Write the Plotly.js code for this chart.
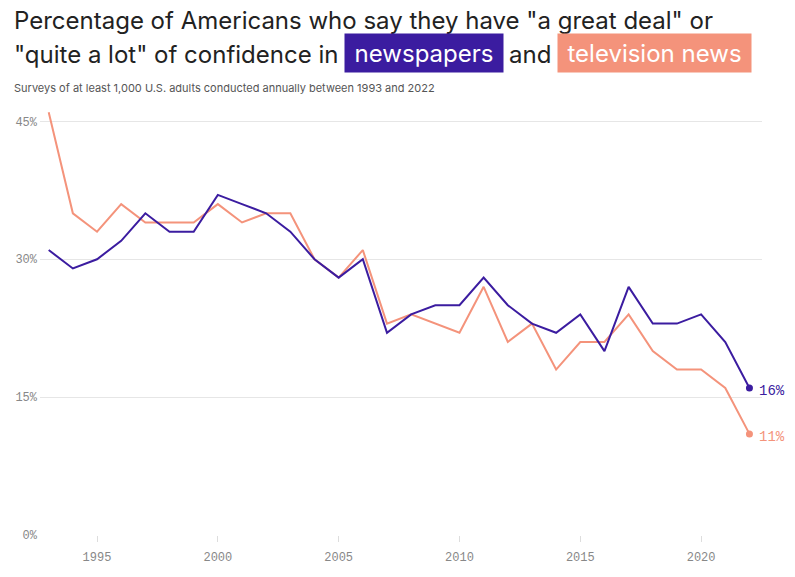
<!DOCTYPE html>
<html>
<head>
<meta charset="utf-8">
<script src="https://cdn.plot.ly/plotly-3.0.1.min.js"></script>
<style>
  body { margin: 0; background: #fff; }
  #chart { width: 795px; height: 577px; }
</style>
</head>
<body>
<div id="chart"></div>
<script>
const years = [
	1993, 1994, 1995, 1996, 1997, 1998, 1999, 2000, 2001, 2002,
	2003, 2004, 2005, 2006, 2007, 2008, 2009, 2010, 2011, 2012,
	2013, 2014, 2015, 2016, 2017, 2018, 2019, 2020, 2021, 2022
];

const newspapers = [
	31, 29, 30, 32, 35, 33, 33, 37, 36, 35,
	33, 30, 28, 30, 22, 24, 25, 25, 28, 25,
	23, 22, 24, 20, 27, 23, 23, 24, 21, 16
];

const televisionNews = [
	46, 35, 33, 36, 34, 34, 34, 36, 34, 35,
	35, 30, 28, 31, 23, 24, 23, 22, 27, 21,
	23, 18, 21, 21, 24, 20, 18, 18, 16, 11
];

const yTicks = [0, 15, 30, 45];
const yTickLabels = ["0%", "15%", "30%", "45%"];
const xTicks = [1995, 2000, 2005, 2010, 2015, 2020];

const PURPLE = "#3b1ca0";
const SALMON = "#f4937b";
const MONO = "Liberation Mono, DejaVu Sans Mono, monospace";
const SANS = "Inter, Roboto, Noto Sans, sans-serif";

// plot area in pixels
const W = 795, H = 577;
const margin = { l: 40, r: 33, t: 103, b: 42 };
const plotW = W - margin.l - margin.r;
const plotH = H - margin.t - margin.b;

function px(x) {
	return (x - margin.l) / plotW;
}

function py(y) {
	return (H - margin.b - y) / plotH;
}

function textNote(text, x, y, size, color, extra) {
	return Object.assign({
		text: text,
		xref: "paper", yref: "paper",
		x: px(x), y: py(y),
		xanchor: "left", yanchor: "middle",
		showarrow: false,
		font: { family: SANS, size: size, color: color }
	}, extra || {});
}

function lastOf(arr) {
	return arr[arr.length - 1];
}

let traces = [
	{
		x: years, y: televisionNews,
		type: "scatter", mode: "lines",
		line: { color: SALMON, width: 2 },
		hoverinfo: "skip"
	},
	{
		x: years, y: newspapers,
		type: "scatter", mode: "lines",
		line: { color: PURPLE, width: 2 },
		hoverinfo: "skip"
	},
	{
		x: [lastOf(years), lastOf(years)],
		y: [lastOf(televisionNews), lastOf(newspapers)],
		type: "scatter", mode: "markers",
		marker: { color: [SALMON, PURPLE], size: 7 },
		cliponaxis: false,
		hoverinfo: "skip"
	}
];

let annotations = [
	textNote('Percentage of Americans who say they have "a great deal" or', 12, 20, 24, "#222"),
	textNote('"quite a lot" of confidence in', 12, 54, 24, "#222"),
	textNote("newspapers", 344, 53, 24, "#fff", { bgcolor: PURPLE, width: 156, height: 36, align: "center" }),
	textNote("and", 507, 54, 24, "#222"),
	textNote("television news", 557, 53, 24, "#fff", { bgcolor: SALMON, width: 191, height: 36, align: "center" }),
	textNote("Surveys of at least 1,000 U.S. adults conducted annually between 1993 and 2022", 12, 88, 11, "#555"),
	{
		text: lastOf(newspapers) + "%",
		x: lastOf(years), y: lastOf(newspapers),
		xref: "x", yref: "y",
		xanchor: "left", yanchor: "middle", xshift: 8, yshift: -3,
		showarrow: false,
		font: { family: MONO, size: 14, color: PURPLE }
	},
	{
		text: lastOf(televisionNews) + "%",
		x: lastOf(years), y: lastOf(televisionNews),
		xref: "x", yref: "y",
		xanchor: "left", yanchor: "middle", xshift: 8, yshift: -3,
		showarrow: false,
		font: { family: MONO, size: 14, color: SALMON }
	}
];

let layout = {
	width: W,
	height: H,
	margin: margin,
	paper_bgcolor: "#fff",
	plot_bgcolor: "#fff",
	showlegend: false,
	xaxis: {
		range: [1992.64, 2022.52],
		tickvals: xTicks,
		ticks: "outside",
		ticklen: 6,
		tickcolor: "#ddd",
		ticklabelstandoff: 5,
		showgrid: false,
		zeroline: false,
		showline: false,
		tickfont: { family: MONO, size: 12, color: "#888" }
	},
	yaxis: {
		range: [0, 47],
		tickvals: yTicks,
		ticktext: yTickLabels,
		gridcolor: "#e6e6e6",
		gridwidth: 1,
		zeroline: false,
		showline: false,
		ticks: "",
		ticklabelstandoff: 2,
		tickfont: { family: MONO, size: 12, color: "#888" }
	},
	annotations: annotations
};

Plotly.newPlot("chart", traces, layout, { displayModeBar: false, staticPlot: true });
</script>
</body>
</html>
